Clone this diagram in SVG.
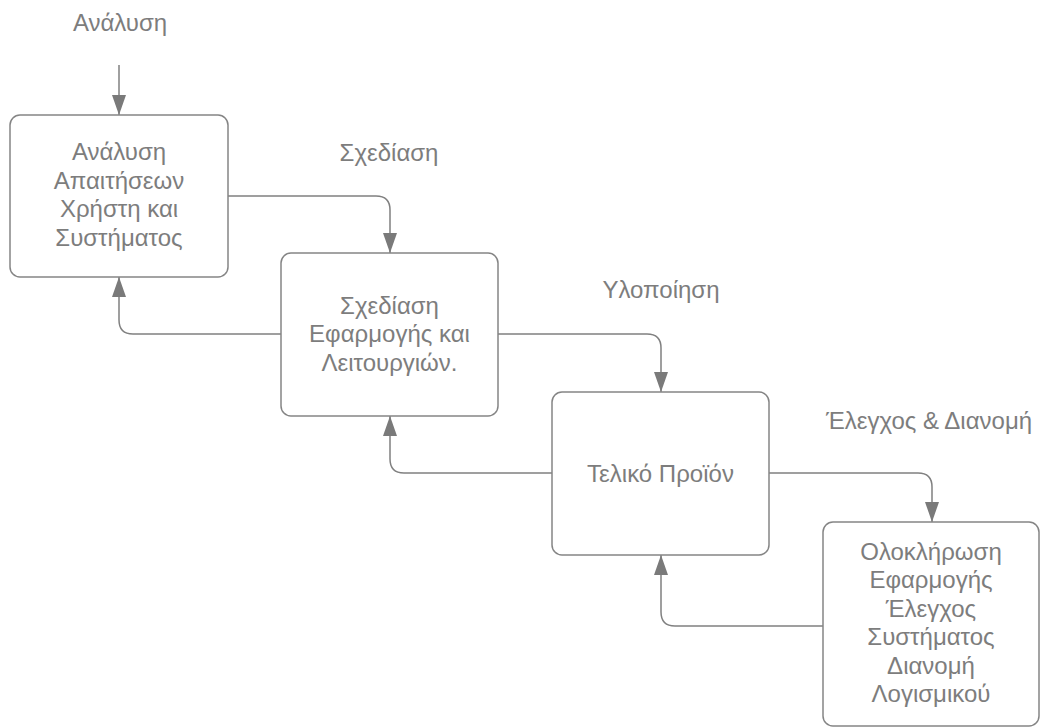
<svg xmlns="http://www.w3.org/2000/svg" width="1041" height="728" viewBox="0 0 1041 728">
<style>
.box{fill:#ffffff;stroke:#858585;stroke-width:1.5}
.t{font-family:"Liberation Sans",Arial,sans-serif;font-size:24px;fill:#7d7d7d;text-anchor:middle}
.c{fill:none;stroke:#808080;stroke-width:1.5}
</style>
<defs>
<marker id="ah" markerUnits="userSpaceOnUse" markerWidth="20" markerHeight="14" refX="20" refY="7" orient="auto">
<path d="M0,0 L20,7 L0,14 z" fill="#7a7a7a"/>
</marker>
</defs>
<rect width="1041" height="728" fill="#ffffff"/>
<g id="connectors">
<path class="c" d="M119,65 V115" marker-end="url(#ah)"/>
<path class="c" d="M228,196 H376 Q390,196 390,210 V253" marker-end="url(#ah)"/>
<path class="c" d="M281,334 H133 Q119,334 119,320 V277" marker-end="url(#ah)"/>
<path class="c" d="M498,334 H647 Q661,334 661,348 V392" marker-end="url(#ah)"/>
<path class="c" d="M552,473 H404 Q390,473 390,459 V416" marker-end="url(#ah)"/>
<path class="c" d="M769,473 H918 Q932,473 932,487 V522" marker-end="url(#ah)"/>
<path class="c" d="M823,626 H675 Q661,626 661,612 V555" marker-end="url(#ah)"/>
</g>
<g id="labels">
<text class="t" x="120" y="31">Ανάλυση</text>
<text class="t" x="389" y="161">Σχεδίαση</text>
<text class="t" x="661" y="298">Υλοποίηση</text>
<text class="t" x="929" y="429">Έλεγχος &amp; Διανομή</text>
</g>
<g id="node1">
<rect class="box" x="10" y="115" width="218" height="162" rx="10"/>
<text class="t" x="119" y="160">Ανάλυση</text>
<text class="t" x="119" y="188.5">Απαιτήσεων</text>
<text class="t" x="119" y="217">Χρήστη και</text>
<text class="t" x="119" y="245.5">Συστήματος</text>
</g>
<g id="node2">
<rect class="box" x="281" y="253" width="217" height="163" rx="10"/>
<text class="t" x="389.5" y="313.5">Σχεδίαση</text>
<text class="t" x="389.5" y="342">Εφαρμογής και</text>
<text class="t" x="389.5" y="370.5">Λειτουργιών.</text>
</g>
<g id="node3">
<rect class="box" x="552" y="392" width="217" height="163" rx="10"/>
<text class="t" x="660.5" y="482">Τελικό Προϊόν</text>
</g>
<g id="node4">
<rect class="box" x="823" y="522" width="216" height="204" rx="10"/>
<text class="t" x="931" y="559.5">Ολοκλήρωση</text>
<text class="t" x="931" y="588">Εφαρμογής</text>
<text class="t" x="931" y="616.5">Έλεγχος</text>
<text class="t" x="931" y="645">Συστήματος</text>
<text class="t" x="931" y="673.5">Διανομή</text>
<text class="t" x="931" y="702">Λογισμικού</text>
</g>
</svg>
